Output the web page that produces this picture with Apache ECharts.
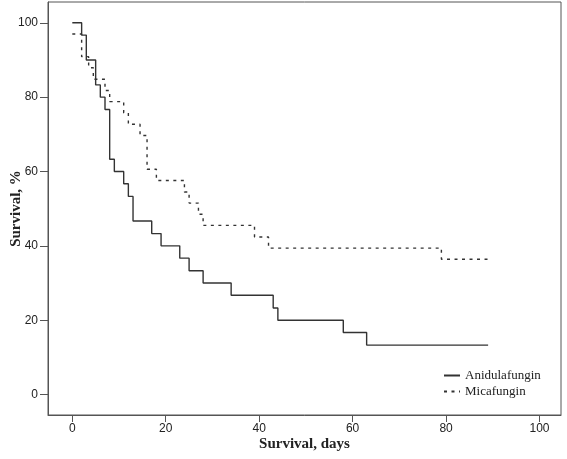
<!DOCTYPE html>
<html>
<head>
<meta charset="utf-8">
<script src="https://cdn.jsdelivr.net/npm/echarts@6/dist/echarts.min.js"></script>
<style>html,body{margin:0;padding:0;background:#fff}#c{width:567px;height:459px}</style>
</head>
<body>
<div id="c"></div>
<script>
// Kaplan-Meier step points: day of event, survival % after the event
const anidulaDays = [0, 2, 3, 5, 6, 7, 8, 9, 11, 12, 13, 17, 19, 23, 25, 28, 34, 43, 44, 58, 63, 89];
const anidulaSurv = [100, 96.7, 90, 83.3, 80, 76.7, 63.3, 60, 56.7, 53.3, 46.7, 43.3, 40, 36.7, 33.3, 30, 26.7, 23.3, 20, 16.7, 13.3, 13.3];
const micaDays = [0, 2, 3.5, 4.5, 7, 8, 11, 12, 14.5, 16, 18, 24, 25, 27, 28, 39, 42, 79, 89];
const micaSurv = [97.0, 90.9, 87.9, 84.8, 81.8, 78.8, 75.8, 72.7, 69.7, 60.6, 57.6, 54.5, 51.5, 48.5, 45.5, 42.4, 39.4, 36.4, 36.4];
const xTicks = [0, 20, 40, 60, 80, 100];
const yTicks = [0, 20, 40, 60, 80, 100];
const seriesNames = ['Anidulafungin', 'Micafungin'];

const pair = (xs, ys) => xs.map((x, i) => [x, ys[i]]);
const chart = echarts.init(document.getElementById('c'));
const serif = 'Liberation Serif';
const narrow = 'Liberation Sans Narrow, Liberation Sans, Arial';
chart.setOption({
  animation: false,
  grid: { left: 48, right: 6, top: 2, bottom: 44, show: true, borderColor: '#555', borderWidth: 1,
          containLabel: false, outerBoundsMode: 'none' },
  legend: {
    orient: 'vertical', left: 438, top: 364, itemWidth: 16, itemHeight: 10, itemGap: 3,
    textStyle: { fontFamily: serif, fontSize: 13, color: '#222' },
    itemStyle: { opacity: 0 },
    data: seriesNames
  },
  xAxis: {
    type: 'value', min: -5.2, max: 104.6,
    name: 'Survival, days', nameLocation: 'middle', nameGap: 22, nameMoveOverlap: false,
    nameTextStyle: { fontFamily: serif, fontWeight: 'bold', fontSize: 15, color: '#222' },
    axisLine: { show: true, onZero: false, lineStyle: { color: '#555', width: 1 } },
    axisTick: { show: true, length: 7, customValues: xTicks, lineStyle: { color: '#555' } },
    axisLabel: { customValues: xTicks, margin: 8, fontFamily: narrow, fontSize: 12, color: '#222' },
    splitLine: { show: false }
  },
  yAxis: {
    type: 'value', min: -5.5, max: 105.6,
    name: 'Survival, %', nameLocation: 'middle', nameGap: 24, nameRotate: 90, nameMoveOverlap: false,
    nameTextStyle: { fontFamily: serif, fontWeight: 'bold', fontSize: 15, color: '#222' },
    axisLine: { show: true, onZero: false, lineStyle: { color: '#555', width: 1 } },
    axisTick: { show: true, length: 8, customValues: yTicks, lineStyle: { color: '#555' } },
    axisLabel: { customValues: yTicks, margin: 10, fontFamily: narrow, fontSize: 12, color: '#222' },
    splitLine: { show: false }
  },
  series: [
    { name: seriesNames[0], type: 'line', step: 'end', symbol: 'none', data: pair(anidulaDays, anidulaSurv),
      lineStyle: { color: '#333', width: 1.4, type: 'solid' }, itemStyle: { color: '#333' } },
    { name: seriesNames[1], type: 'line', step: 'end', symbol: 'none', data: pair(micaDays, micaSurv),
      lineStyle: { color: '#333', width: 1.4, type: [3, 4.5] }, itemStyle: { color: '#333' } }
  ]
});
</script>
</body>
</html>
